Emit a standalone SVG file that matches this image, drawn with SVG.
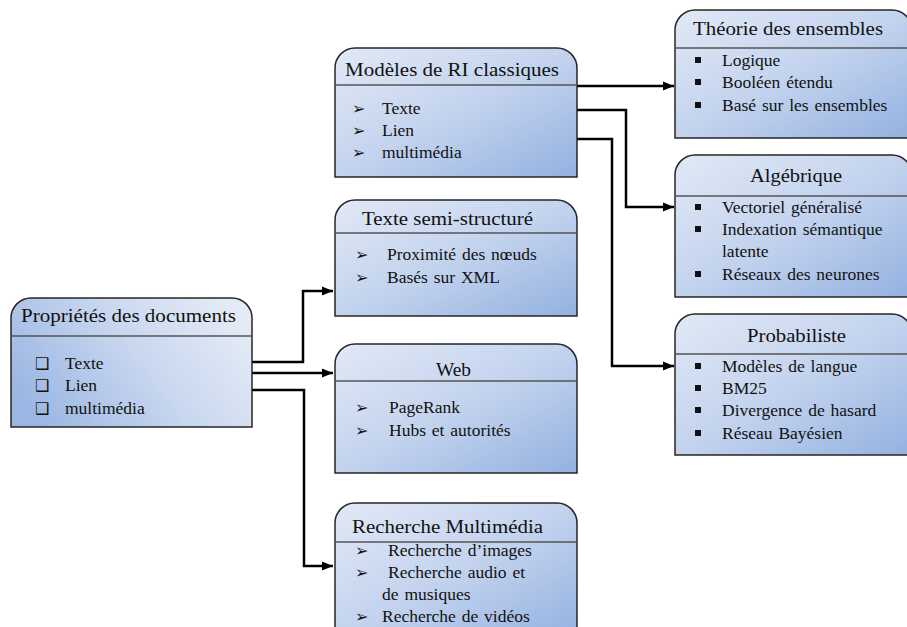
<svg xmlns="http://www.w3.org/2000/svg" width="907" height="627" viewBox="0 0 907 627">
<defs>
<linearGradient id="gBox" x1="0" y1="0" x2="1" y2="1">
<stop offset="0" stop-color="#e2e9f6"/>
<stop offset="0.5" stop-color="#c3d3ee"/>
<stop offset="1" stop-color="#93b1e0"/>
</linearGradient>
<linearGradient id="gLeft" x1="0" y1="0.7" x2="1" y2="0.3">
<stop offset="0" stop-color="#9ab6e3"/>
<stop offset="0.55" stop-color="#c9d7ef"/>
<stop offset="1" stop-color="#e4ebf6"/>
</linearGradient>
<marker id="arr" markerWidth="12" markerHeight="12" refX="11" refY="6" orient="auto" markerUnits="userSpaceOnUse">
<path d="M0,1.5 L11,6 L0,10.5 Z" fill="#000"/>
</marker>
</defs>
<style>
.box{stroke:#262626;stroke-width:1.5}
.div{stroke:#555;stroke-width:1.5}
.h{font-family:"Liberation Serif","Times New Roman",serif;font-size:18.5px;fill:#111}
.t{font-family:"Liberation Serif","Times New Roman",serif;font-size:17.5px;fill:#111;word-spacing:1.5px}
.b{font-family:"DejaVu Sans",sans-serif;font-size:16px;font-weight:bold;fill:#111}
.sq{fill:#111}
.c{fill:none;stroke:#000;stroke-width:2.5}
</style>

<g id="connectors">
<path class="c" d="M252,362 H303 V291 H333" marker-end="url(#arr)"/>
<path class="c" d="M252,373 H333" marker-end="url(#arr)"/>
<path class="c" d="M252,390 H304 V566 H333" marker-end="url(#arr)"/>
<path class="c" d="M577,86 H674" marker-end="url(#arr)"/>
<path class="c" d="M577,110 H626 V207 H674" marker-end="url(#arr)"/>
<path class="c" d="M575,139 H612 V366 H674" marker-end="url(#arr)"/>
</g>

<g id="proprietes">
<path class="box" fill="url(#gLeft)" d="M11,427 V318 A20,20 0 0 1 31,298 H232 A20,20 0 0 1 252,318 V427 Z"/>
<line class="div" x1="11" y1="336" x2="252" y2="336"/>
<text class="h" x="21" y="322" textLength="215" lengthAdjust="spacingAndGlyphs">Propriétés des documents</text>
<text class="b" x="35" y="369">❑</text><text class="t" x="65" y="369">Texte</text>
<text class="b" x="35" y="391">❑</text><text class="t" x="65" y="391">Lien</text>
<text class="b" x="35" y="414">❑</text><text class="t" x="65" y="414">multimédia</text>
</g>

<g id="modeles">
<path class="box" fill="url(#gBox)" d="M335,177 V68 A20,20 0 0 1 355,48 H557 A20,20 0 0 1 577,68 V177 Z"/>
<line class="div" x1="335" y1="85" x2="577" y2="85"/>
<text class="h" x="345" y="76" textLength="214" lengthAdjust="spacingAndGlyphs">Modèles de RI classiques</text>
<text class="b" x="352" y="114">➢</text><text class="t" x="382" y="114">Texte</text>
<text class="b" x="352" y="136">➢</text><text class="t" x="382" y="136">Lien</text>
<text class="b" x="352" y="158">➢</text><text class="t" x="382" y="158">multimédia</text>
</g>

<g id="semi">
<path class="box" fill="url(#gBox)" d="M335,316 V220 A20,20 0 0 1 355,200 H557 A20,20 0 0 1 577,220 V316 Z"/>
<line class="div" x1="335" y1="233" x2="577" y2="233"/>
<text class="h" x="362" y="225" textLength="171" lengthAdjust="spacingAndGlyphs">Texte  semi-structuré</text>
<text class="b" x="355" y="260">➢</text><text class="t" x="387" y="260">Proximité des nœuds</text>
<text class="b" x="355" y="283">➢</text><text class="t" x="387" y="283">Basés sur XML</text>
</g>

<g id="web">
<path class="box" fill="url(#gBox)" d="M335,473 V364 A20,20 0 0 1 355,344 H557 A20,20 0 0 1 577,364 V473 Z"/>
<line class="div" x1="335" y1="381" x2="577" y2="381"/>
<text class="h" x="436" y="376" textLength="35" lengthAdjust="spacingAndGlyphs">Web</text>
<text class="b" x="355" y="413">➢</text><text class="t" x="389" y="413">PageRank</text>
<text class="b" x="355" y="436">➢</text><text class="t" x="389" y="436">Hubs et autorités</text>
</g>

<g id="multimedia">
<path class="box" fill="url(#gBox)" d="M335,640 V523 A20,20 0 0 1 355,503 H557 A20,20 0 0 1 577,523 V640 Z"/>
<line class="div" x1="335" y1="542" x2="577" y2="542"/>
<text class="h" x="352" y="533" textLength="191" lengthAdjust="spacingAndGlyphs">Recherche  Multimédia</text>
<text class="b" x="355" y="556">➢</text><text class="t" x="388" y="556">Recherche d’images</text>
<text class="b" x="355" y="578">➢</text><text class="t" x="388" y="578">Recherche audio et</text>
<text class="t" x="382" y="600">de musiques</text>
<text class="b" x="355" y="622">➢</text><text class="t" x="382" y="622">Recherche de vidéos</text>
</g>

<g id="theorie">
<path class="box" fill="url(#gBox)" d="M675,138 V30 A20,20 0 0 1 695,10 H892 A20,20 0 0 1 912,30 V138 Z"/>
<line class="div" x1="675" y1="48" x2="912" y2="48"/>
<text class="h" x="693" y="35" textLength="190" lengthAdjust="spacingAndGlyphs">Théorie  des  ensembles</text>
<rect class="sq" x="695" y="57" width="6" height="6"/><text class="t" x="722" y="66">Logique</text>
<rect class="sq" x="695" y="79" width="6" height="6"/><text class="t" x="722" y="88">Booléen étendu</text>
<rect class="sq" x="695" y="102" width="6" height="6"/><text class="t" x="722" y="111">Basé sur les ensembles</text>
</g>

<g id="algebrique">
<path class="box" fill="url(#gBox)" d="M675,297 V175 A20,20 0 0 1 695,155 H892 A20,20 0 0 1 912,175 V297 Z"/>
<line class="div" x1="675" y1="196" x2="912" y2="196"/>
<text class="h" x="750" y="182" textLength="92" lengthAdjust="spacingAndGlyphs">Algébrique</text>
<rect class="sq" x="695" y="204" width="6" height="6"/><text class="t" x="722" y="213">Vectoriel généralisé</text>
<rect class="sq" x="695" y="226" width="6" height="6"/><text class="t" x="722" y="235">Indexation sémantique</text>
<text class="t" x="722" y="257">latente</text>
<rect class="sq" x="695" y="271" width="6" height="6"/><text class="t" x="722" y="280">Réseaux des neurones</text>
</g>

<g id="probabiliste">
<path class="box" fill="url(#gBox)" d="M675,455 V334 A20,20 0 0 1 695,314 H892 A20,20 0 0 1 912,334 V455 Z"/>
<line class="div" x1="675" y1="354" x2="912" y2="354"/>
<text class="h" x="747" y="342" textLength="99" lengthAdjust="spacingAndGlyphs">Probabiliste</text>
<rect class="sq" x="695" y="363" width="6" height="6"/><text class="t" x="722" y="372">Modèles de langue</text>
<rect class="sq" x="695" y="385" width="6" height="6"/><text class="t" x="722" y="394">BM25</text>
<rect class="sq" x="695" y="407" width="6" height="6"/><text class="t" x="722" y="416">Divergence de hasard</text>
<rect class="sq" x="695" y="430" width="6" height="6"/><text class="t" x="722" y="439">Réseau Bayésien</text>
</g>
</svg>
